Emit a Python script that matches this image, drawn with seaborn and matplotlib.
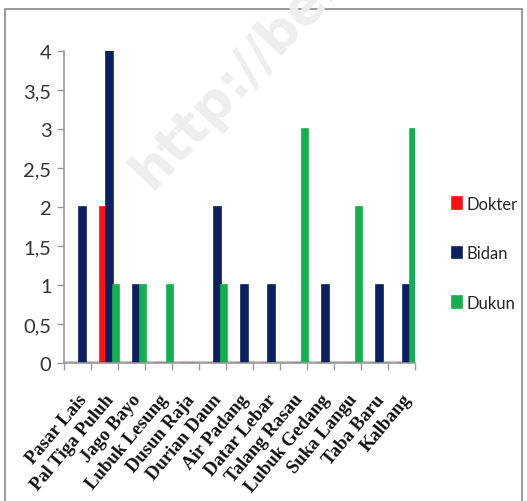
import pandas as pd
import matplotlib.pyplot as plt
import seaborn as sns
from matplotlib.patches import Rectangle
from matplotlib.ticker import FixedLocator
from matplotlib.transforms import ScaledTranslation

# data
villages = ['Pasar Lais', 'Pal Tiga Puluh', 'Jago Bayo', 'Lubuk Lesung', 'Dusun Raja',
            'Durian Daun', 'Air Padang', 'Datar Lebar', 'Talang Rasau', 'Lubuk Gedang',
            'Suka Langu', 'Taba Baru', 'Kalbang']
dokter = [0, 2, 0, 0, 0, 0, 0, 0, 0, 0, 0, 0, 0]
bidan = [2, 4, 1, 0, 0, 2, 1, 1, 0, 1, 0, 1, 1]
dukun = [0, 1, 1, 1, 0, 1, 0, 0, 3, 0, 2, 0, 3]
series = ['Dokter', 'Bidan', 'Dukun']
colors = ['#ff1010', '#0c1f5e', '#12b04e']

sns.set_style('white')
plt.rcParams['font.family'] = ['Lato', 'DejaVu Sans']

df = pd.DataFrame({'Desa': villages, 'Dokter': dokter, 'Bidan': bidan, 'Dukun': dukun})
long = df.melt(id_vars='Desa', var_name='Tenaga', value_name='Jumlah')

W, H = 527, 502
fig = plt.figure(figsize=(W / 100, H / 100), dpi=100)
ax = fig.add_axes([64 / W, 1 - 364 / H, 351 / W, 312 / H])
ax.patch.set_visible(False)

# faint watermark behind the chart
fig.text(122 / W, 1 - 198 / H, 'http://ber', rotation=47, fontsize=38, fontweight='bold',
         color='#eeeeee', family=['DejaVu Sans'], ha='left', va='bottom', zorder=-5)

# outer frame
fig.patches.append(Rectangle((5 / W, -0.05), 517 / W, 1.05 - 10 / H, transform=fig.transFigure,
                             fill=False, edgecolor='#8a8a8a', linewidth=1.2, zorder=-10))

sns.barplot(data=long, x='Desa', y='Jumlah', hue='Tenaga', hue_order=series,
            palette=colors, width=0.72, ax=ax, legend=True, linewidth=1.2, saturation=1)

# 3D look: bars sit toward the back of each slot
for bar in ax.patches:
    bar.set_x(bar.get_x() + 0.19)
    bar.set_edgecolor(bar.get_facecolor())

ax.set_xlim(-0.5, 12.5)
ax.set_ylim(0, 4)
ax.set_yticks([0, 0.5, 1, 1.5, 2, 2.5, 3, 3.5, 4])
ax.set_yticklabels(['0', '0,5', '1', '1,5', '2', '2,5', '3', '3,5', '4'],
                   fontsize=14.5, color='#333333')
ax.set_xticks(range(len(villages)))
ax.set_xticklabels(villages, rotation=50, ha='right', rotation_mode='anchor',
                   fontsize=13.5, fontweight='bold', family=['Liberation Serif'], color='#111111')
shift = ScaledTranslation(3 / 100, 0, fig.dpi_scale_trans)
for lab in ax.get_xticklabels():
    lab.set_transform(lab.get_transform() + shift)
ax.xaxis.set_minor_locator(FixedLocator([i - 0.5 for i in range(len(villages) + 1)]))
ax.tick_params(axis='x', which='major', length=0, pad=20)
ax.tick_params(axis='x', which='minor', length=5, color='#9a9a9a', width=1, direction='out', bottom=True)
ax.tick_params(axis='y', length=5, color='#9a9a9a', width=1, direction='out', left=True, pad=4)
ax.set_xlabel('')
ax.set_ylabel('')

sns.despine(ax=ax, top=True, right=True)
for side in ['left', 'bottom']:
    ax.spines[side].set_color('#9a9a9a')
    ax.spines[side].set_linewidth(1.2)
ax.axhline(0, color='#c8c8c8', linewidth=3, zorder=0)

handles, labels = ax.get_legend_handles_labels()
ax.legend(handles, labels, loc='upper left', bbox_to_anchor=(452 / W, 1 - 197 / H),
          bbox_transform=fig.transFigure, frameon=False, fontsize=12,
          borderpad=0, borderaxespad=0,
          handlelength=0.6, handleheight=0.7, handletextpad=0.3, labelspacing=2.0)

plt.savefig('out.png', dpi=100)
plt.close()
